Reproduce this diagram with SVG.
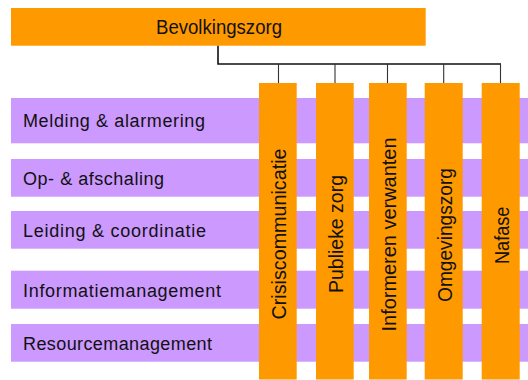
<svg xmlns="http://www.w3.org/2000/svg" width="528" height="380" viewBox="0 0 528 380">
<style>
.row{fill:#CC99FF}
.col{fill:#FF9900}
.top{fill:#FF9900}
text{font-family:"Liberation Sans",Arial,sans-serif;fill:#111}
.rt{font-size:18px}
.ct{font-size:21px;text-anchor:middle}
.tt{font-size:20px;text-anchor:middle}
.trunk{stroke:#111;stroke-width:1.6;fill:none}
.drop{stroke:#333;stroke-width:1.1;fill:none}
</style>
<rect width="528" height="380" fill="#fff"/>
<g id="bevolkingszorg">
<rect class="top" x="11" y="8" width="414.7" height="37.7"/>
<text class="tt" x="219" y="33.5" textLength="126" lengthAdjust="spacingAndGlyphs">Bevolkingszorg</text>
</g>
<g id="connectors">
<path class="trunk" d="M218 45.7V64H501"/>
<path class="drop" d="M278.5 64V83M335 64V83M387.5 64V83M443.7 64V83M500.5 64V83"/>
</g>
<g id="melding">
<rect class="row" x="11" y="98" width="517" height="45.3"/>
<text class="rt" x="23" y="127.3" textLength="182" lengthAdjust="spacing">Melding &amp; alarmering</text>
</g>
<g id="opafschaling">
<rect class="row" x="11" y="159" width="517" height="37.7"/>
<text class="rt" x="23" y="184.5" textLength="141" lengthAdjust="spacing">Op- &amp; afschaling</text>
</g>
<g id="leiding">
<rect class="row" x="11" y="211" width="517" height="37.7"/>
<text class="rt" x="23" y="237" textLength="183" lengthAdjust="spacing">Leiding &amp; coordinatie</text>
</g>
<g id="informatiemanagement">
<rect class="row" x="11" y="270.7" width="517" height="38"/>
<text class="rt" x="23" y="296.7" textLength="198" lengthAdjust="spacing">Informatiemanagement</text>
</g>
<g id="resourcemanagement">
<rect class="row" x="11" y="324" width="517" height="37.7"/>
<text class="rt" x="23" y="350" textLength="189" lengthAdjust="spacing">Resourcemanagement</text>
</g>
<g id="crisiscommunicatie">
<rect class="col" x="259" y="83" width="37.7" height="296.5"/>
<text class="ct" transform="translate(286.3 234) rotate(-90)" textLength="171" lengthAdjust="spacingAndGlyphs">Crisiscommunicatie</text>
</g>
<g id="publiekezorg">
<rect class="col" x="316" y="83" width="37.7" height="296.5"/>
<text class="ct" transform="translate(343.2 234) rotate(-90)" textLength="118" lengthAdjust="spacingAndGlyphs">Publieke zorg</text>
</g>
<g id="informerenverwanten">
<rect class="col" x="369" y="83" width="37.7" height="296.5"/>
<text class="ct" transform="translate(396.2 234.5) rotate(-90)" textLength="194" lengthAdjust="spacingAndGlyphs">Informeren verwanten</text>
</g>
<g id="omgevingszorg">
<rect class="col" x="424.7" y="83" width="38" height="296.5"/>
<text class="ct" transform="translate(452.3 235) rotate(-90)" textLength="134" lengthAdjust="spacingAndGlyphs">Omgevingszorg</text>
</g>
<g id="nafase">
<rect class="col" x="481.7" y="83" width="38" height="296.5"/>
<text class="ct" transform="translate(509.2 235.3) rotate(-90)" textLength="57.5" lengthAdjust="spacingAndGlyphs">Nafase</text>
</g>
</svg>
